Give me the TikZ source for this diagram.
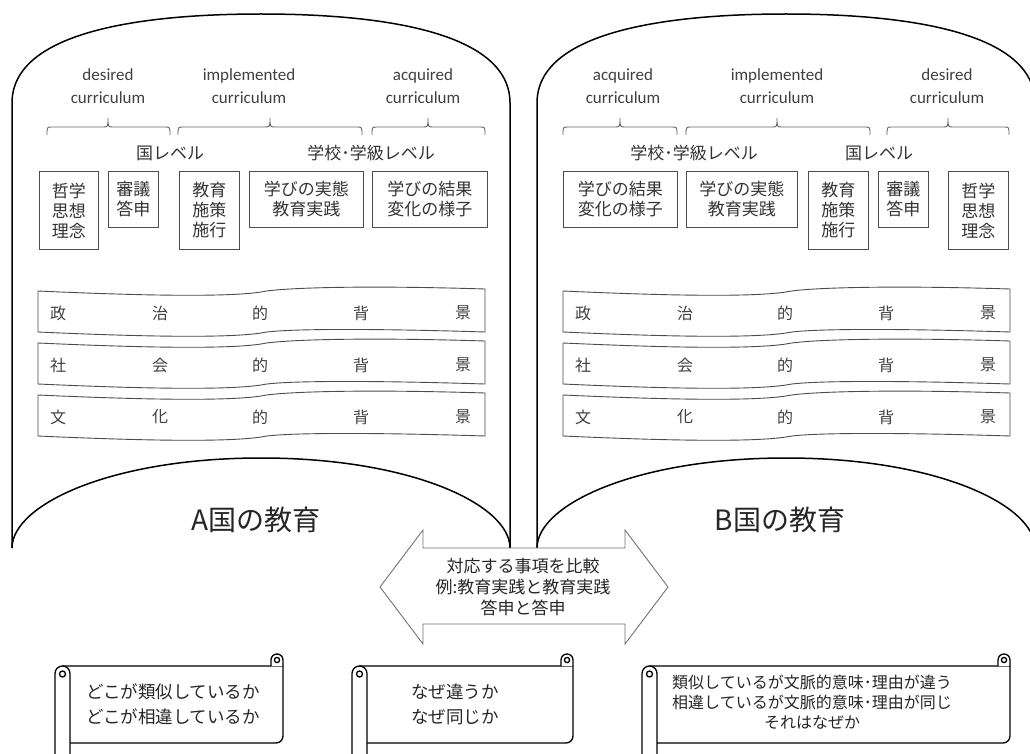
\documentclass[tikz,border=0pt]{standalone}
\usepackage{fontspec}
\setmainfont{Carlito}
\newfontfamily\jp{Noto Sans CJK JP}
\begin{document}
\begin{tikzpicture}[x=1pt,y=-1pt,
  drum/.style={draw=black, line width=1.5pt},
  cbox/.style={draw=black!70, line width=0.9pt, fill=white, inner sep=0pt, align=center,
    font=\jp\fontsize{17}{20}\selectfont, text=black!80, anchor=north west},
  lbl/.style={font=\fontsize{17}{23}\selectfont, text=black!75, align=center},
  lvl/.style={font=\jp\fontsize{17}{20}\selectfont, text=black!80},
  brc/.style={draw=black!60, line width=0.9pt},
  band/.style={draw=black!70, line width=0.9pt, fill=white},
  bt/.style={font=\jp\fontsize{16}{20}\selectfont, text=black!75},
  ttl/.style={font=\jp\fontsize{28}{32}\selectfont, text=black!85},
  arr/.style={draw=black!55, line width=0.9pt, fill=white},
  arrtxt/.style={font=\jp\fontsize{17}{21}\selectfont, text=black!85, align=center},
  scr/.style={draw=black, line width=1.3pt},
  st/.style={font=\jp\fontsize{17.5}{25}\selectfont, text=black!85, align=center},
  st3/.style={font=\jp\fontsize{16}{20}\selectfont, text=black!85, align=center},
]
\useasboundingbox (0,0) rectangle (1030,754);
\fill[white] (0,0) rectangle (1030,754);

% ---------- drums ----------
\draw[drum] (12,548) -- (12,103) .. controls (12,32) and (140,14) .. (261,14)
  .. controls (382,14) and (510,32) .. (510,103) -- (510,548);
\draw[drum] (12,548) .. controls (12,505) and (110,458) .. (261,458)
  .. controls (412,458) and (510,505) .. (510,548);
\draw[drum] (537,548) -- (537,103) .. controls (537,32) and (665,14) .. (786,14)
  .. controls (907,14) and (1035,32) .. (1035,103) -- (1035,548);
\draw[drum] (537,548) .. controls (537,505) and (635,458) .. (786,458)
  .. controls (937,458) and (1035,505) .. (1035,548);
\node[ttl] (ta) at (256,520) {A国の教育};
\node[ttl] (tb) at (780,520) {B国の教育};

% ---------- curriculum labels ----------
\node[lbl] (l1) at (108,86) {desired\\curriculum};
\node[lbl] (l2) at (249,86) {implemented\\curriculum};
\node[lbl] (l3) at (423,86) {acquired\\curriculum};
\node[lbl] (r1) at (623,86) {acquired\\curriculum};
\node[lbl] (r2) at (777,86) {implemented\\curriculum};
\node[lbl] (r3) at (947,86) {desired\\curriculum};

% ---------- braces ----------
\newcommand\mybrace[3]{%
  \draw[brc] (#1,135) .. controls (#1,127) .. ({#1+5},127) -- ({#2-5},127)
    .. controls (#2,127) .. (#2,118) .. controls (#2,127) .. ({#2+5},127)
    -- ({#3-5},127) .. controls (#3,127) .. (#3,135);}
\mybrace{47}{108}{170}
\mybrace{178}{270}{362}
\mybrace{372}{428}{485}
\mybrace{563}{620}{677}
\mybrace{686}{777}{870}
\mybrace{887}{948}{1009}

% ---------- level labels ----------
\node[lvl] (lv1) at (170,153) {国レベル};
\node[lvl] (lv2) at (371,153) {学校･学級レベル};
\node[lvl] (lv3) at (694,153) {学校･学級レベル};
\node[lvl] (lv4) at (879,153) {国レベル};

% ---------- boxes ----------
\node[cbox, minimum width=59, minimum height=78] (a1) at (39,171) {哲学\\思想\\理念};
\node[cbox, minimum width=50, minimum height=56] (a2) at (108,171) {審議\\答申};
\node[cbox, minimum width=60, minimum height=78] (a3) at (179,171) {教育\\施策\\施行};
\node[cbox, minimum width=114, minimum height=56] (a4) at (249,171) {学びの実態\\教育実践};
\node[cbox, minimum width=115, minimum height=56] (a5) at (372,171) {学びの結果\\変化の様子};
\node[cbox, minimum width=114, minimum height=56] (b1) at (563,171) {学びの結果\\変化の様子};
\node[cbox, minimum width=111, minimum height=56] (b2) at (686,171) {学びの実態\\教育実践};
\node[cbox, minimum width=60, minimum height=78] (b3) at (808,171) {教育\\施策\\施行};
\node[cbox, minimum width=50, minimum height=56] (b4) at (878,171) {審議\\答申};
\node[cbox, minimum width=60, minimum height=78] (b5) at (948,171) {哲学\\思想\\理念};

% ---------- wave bands ----------
\newcommand\wband[8]{%
  \begin{scope}[shift={(#1,#2)}]
  \draw[band] (0,0) .. controls (110,5) and (190,6) .. (223,1)
     .. controls (240,-3) and (320,-6) .. (447,-2) -- (447,41)
     .. controls (320,37) and (240,38) .. (223,42)
     .. controls (190,47) and (110,46) .. (0,41) -- cycle;
  \node[bt] (#3a) at (20,22) {#4};
  \node[bt] (#3b) at (122,22) {#5};
  \node[bt] (#3c) at (222,22) {#6};
  \node[bt] (#3d) at (323,22) {#7};
  \node[bt] (#3e) at (425,22) {#8};
  \end{scope}}
\wband{38}{291}{pa}{政}{治}{的}{背}{景}
\wband{38}{343}{sa}{社}{会}{的}{背}{景}
\wband{38}{395}{ca}{文}{化}{的}{背}{景}
\wband{563}{291}{pb}{政}{治}{的}{背}{景}
\wband{563}{343}{sb}{社}{会}{的}{背}{景}
\wband{563}{395}{cb}{文}{化}{的}{背}{景}

% ---------- double arrow ----------
\draw[arr] (380,587) -- (423,530) -- (423,548) -- (625,548) -- (625,530) -- (668,587)
  -- (625,644) -- (625,624) -- (423,624) -- (423,644) -- cycle;
\node[arrtxt] (cmp) at (523,587) {対応する事項を比較\\例:教育実践と教育実践\\答申と答申};

% ---------- scrolls ----------
\newcommand\myscroll[2]{%
  \fill[white] (#1,666) rectangle (#2,743);
  \draw[scr] ({#1+7},666) -- (#2,666) -- (#2,736)
     arc[start angle=0,end angle=90,radius=7] -- ({#1+15},743);
  \draw[scr,fill=white] (#1,770) -- (#1,673.5)
     arc[start angle=180,end angle=360,radius=7.5] -- ({#1+15},770);
  \draw[scr] ({#1+7.5},674) circle[radius=3];
  \draw[scr,fill=white] ({#2-12},666) -- ({#2-12},660)
     arc[start angle=180,end angle=360,radius=6] -- (#2,666);
  \draw[scr] ({#2-6},660) circle[radius=2.6];}
\myscroll{55}{283}
\myscroll{352}{573}
\myscroll{642}{1010}
\node[st] (q1) at (173,704) {どこが類似しているか\\どこが相違しているか};
\node[st] (q2) at (455,704) {なぜ違うか\\なぜ同じか};
\node[st3] (q3) at (812,702) {類似しているが文脈的意味･理由が違う\\相違しているが文脈的意味･理由が同じ\\それはなぜか};
\end{tikzpicture}
\end{document}
